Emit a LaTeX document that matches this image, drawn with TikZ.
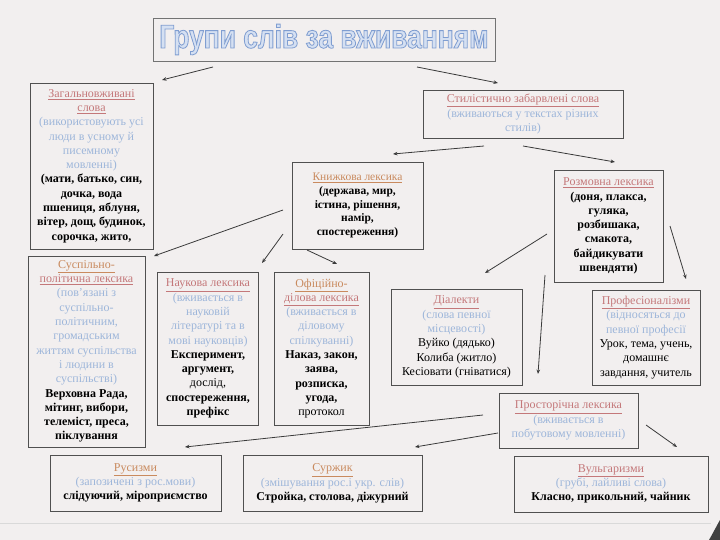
\documentclass[tikz,border=0pt]{standalone}
\usepackage{fontspec}
\setmainfont{Liberation Serif}
\newfontfamily\titlefont{Liberation Sans Bold}[FakeBold=2.5, FakeStretch=0.8]
\usetikzlibrary{arrows.meta}
\definecolor{bg}{HTML}{F2EFEF}
\definecolor{boxc}{HTML}{505050}
\definecolor{rose}{HTML}{C4787A}
\definecolor{orng}{HTML}{C98A5E}
\definecolor{lblue}{HTML}{9DB6DA}
\definecolor{tfill}{HTML}{D5E0F2}
\definecolor{arrc}{HTML}{3A3A3A}
\newcommand\hd[1]{{\color{rose}\underline{#1}}}
\newcommand\ho[1]{{\color{orng}\underline{#1}}}
\newcommand\ds[1]{{\color{lblue}#1}}
\newcommand\ttlstroke{\special{pdf:literal direct 0.50 0.62 0.82 RG}}
\tikzset{
  box/.style={draw=boxc, line width=0.9pt, fill=bg, align=center, inner sep=2pt,
    font=\fontsize{12}{14.3}\selectfont},
  boxs/.style={box, font=\fontsize{11.5}{13.6}\selectfont},
  arr/.style={draw=arrc, line width=0.8pt, -{Stealth[length=4.5pt,width=3.6pt]}}
}
\begin{document}
\begin{tikzpicture}[x=1pt,y=-1pt]
\fill[bg] (0,0) rectangle (720,540);
\useasboundingbox (0,0) rectangle (720,540);
\draw[black!15, line width=0.6pt] (0,523) -- (711,523);
\fill[black!75] (709,540) .. controls (713,533) and (716,527) .. (720,520) -- (720,540) -- cycle;

% title
\node[draw=boxc!80, line width=0.8pt, fill=bg, minimum width=342, minimum height=43, inner sep=0pt] (title) at (324,39.5)
  {\titlefont\fontsize{33}{33}\selectfont\color{tfill}\ttlstroke Групи слів за вживанням};

% boxes
\node[box, minimum width=123, minimum height=166] (gen) at (91.5,166)
 {\hd{Загальновживані}\\ \hd{слова}\\ \ds{(використовують усі}\\ \ds{люди в усному й}\\ \ds{писемному}\\ \ds{мовленні)}\\
  \textbf{(мати, батько, син,}\\ \textbf{дочка, вода}\\ \textbf{пшениця, яблуня,}\\ \textbf{вітер, дощ, будинок,}\\ \textbf{сорочка, жито,}};

\node[box, minimum width=200, minimum height=48] (styl) at (523,114)
 {\hd{Стилістично забарвлені слова}\\ \ds{(вживаються у текстах різних}\\ \ds{стилів)}};

\node[boxs, minimum width=131, minimum height=87] (book) at (357.5,205.5)
 {\ho{Книжкова лексика}\\ \textbf{(держава, мир,}\\ \textbf{істина, рішення,}\\ \textbf{намір,}\\ \textbf{спостереження)}};

\node[box, minimum width=109, minimum height=112] (razm) at (608.5,226)
 {\hd{Розмовна лексика}\\ \textbf{(доня, плакса,}\\ \textbf{гуляка,}\\ \textbf{розбишака,}\\ \textbf{смакота,}\\ \textbf{байдикувати}\\ \textbf{швендяти)}};

\node[box, minimum width=117, minimum height=191] (susp) at (86.5,351.5)
 {\ho{Суспільно-}\\ \hd{політична лексика}\\ \ds{(пов'язані з}\\ \ds{суспільно-}\\ \ds{політичним,}\\ \ds{громадським}\\ \ds{життям суспільства}\\ \ds{і людини в}\\ \ds{суспільстві)}\\
  \textbf{Верховна Рада,}\\ \textbf{мітинг, вибори,}\\ \textbf{телеміст, преса,}\\ \textbf{піклування}};

\node[box, minimum width=101, minimum height=153] (nauk) at (208,348.5)
 {\hd{Наукова лексика}\\ \ds{(вживається в}\\ \ds{науковій}\\ \ds{літературі та в}\\ \ds{мові науковців)}\\
  \textbf{Експеримент,}\\ \textbf{аргумент,}\\ дослід,\\ \textbf{спостереження,}\\ \textbf{префікс}};

\node[box, minimum width=95, minimum height=153] (ofic) at (321.5,348.5)
 {\ho{Офіційно-}\\ \hd{ділова лексика}\\ \ds{(вживається в}\\ \ds{діловому}\\ \ds{спілкуванні)}\\
  \textbf{Наказ, закон,}\\ \textbf{заява,}\\ \textbf{розписка,}\\ \textbf{угода,}\\ протокол};

\node[box, minimum width=131, minimum height=96] (dial) at (456.5,337)
 {\hd{Діалекти}\\ \ds{(слова певної}\\ \ds{місцевості)}\\ Вуйко (дядько)\\ Колиба (житло)\\ Кесіовати (гніватися)};

\node[box, minimum width=108, minimum height=95] (prof) at (646,337.5)
 {\hd{Професіоналізми}\\ \ds{(відносяться до}\\ \ds{певної професії}\\ Урок, тема, учень,\\ домашнє\\ завдання, учитель};

\node[box, minimum width=139, minimum height=55] (prost) at (568.5,420.5)
 {\hd{Просторічна лексика}\\ \ds{(вживається в}\\ \ds{побутовому мовленні)}};

\node[box, minimum width=171, minimum height=56] (rus) at (135.5,483)
 {\ho{Русизми}\\ \ds{(запозичені з рос.мови)}\\ \textbf{слідуючий, міроприємство}};

\node[box, minimum width=179, minimum height=56] (surz) at (332.5,483.5)
 {\ho{Суржик}\\ \ds{(змішування рос.і укр. слів)}\\ \textbf{Стройка, столова, діжурний}};

\node[box, minimum width=194, minimum height=56] (vulg) at (611,484)
 {\hd{Вульгаризми}\\ \ds{(грубі, лайливі слова)}\\ \textbf{Класно, прикольний, чайник}};

% connector ends
\coordinate (t1) at (213,67);   \coordinate (e1) at (162,80);
\coordinate (t2) at (417,67);   \coordinate (e2) at (498,83);
\coordinate (s1) at (484,146);  \coordinate (e3) at (393,154);
\coordinate (s2) at (523,146);  \coordinate (e4) at (615,162);
\coordinate (b1) at (283,210);  \coordinate (e5) at (154,256);
\coordinate (b2) at (283,234);  \coordinate (e6) at (262,263);
\coordinate (b3) at (307,250);  \coordinate (e7) at (337,264);
\coordinate (r1) at (547,234);  \coordinate (e8) at (485,273);
\coordinate (r2) at (670,226);  \coordinate (e9) at (686,279);
\coordinate (r3) at (545,275);  \coordinate (e10) at (538,374);
\coordinate (p1) at (483,415);  \coordinate (e11) at (185,447);
\coordinate (p2) at (498,433);  \coordinate (e12) at (415,447);
\coordinate (p3) at (646,425);  \coordinate (e13) at (677,447);

\draw[arr] (t1) -- (e1);
\draw[arr] (t2) -- (e2);
\draw[arr] (s1) -- (e3);
\draw[arr] (s2) -- (e4);
\draw[arr] (b1) -- (e5);
\draw[arr] (b2) -- (e6);
\draw[arr] (b3) -- (e7);
\draw[arr] (r1) -- (e8);
\draw[arr] (r2) -- (e9);
\draw[arr] (r3) -- (e10);
\draw[arr] (p1) -- (e11);
\draw[arr] (p2) -- (e12);
\draw[arr] (p3) -- (e13);
\end{tikzpicture}
\end{document}
